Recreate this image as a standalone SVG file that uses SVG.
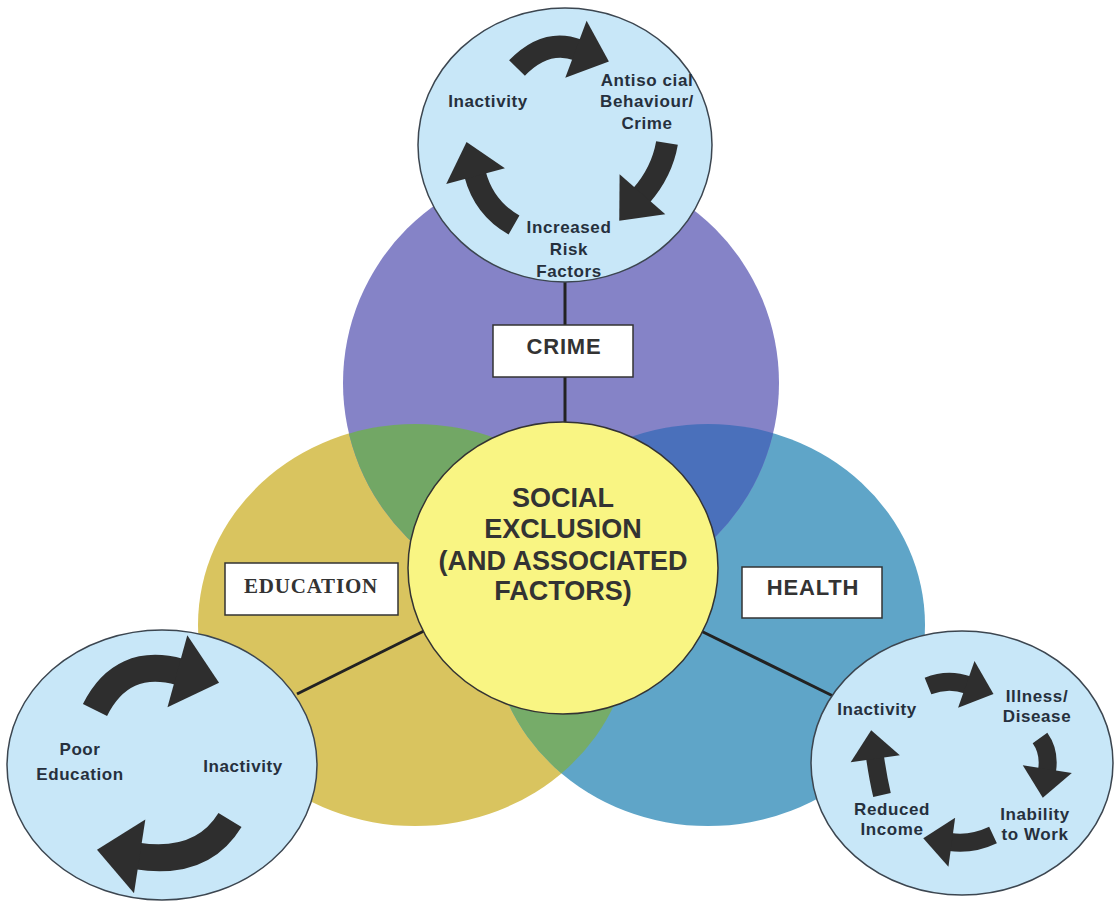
<svg xmlns="http://www.w3.org/2000/svg" width="1114" height="903" viewBox="0 0 1114 903">
<style>
.small{fill:#c8e7f8;stroke:#3c4650;stroke-width:1.5}
.lbl{fill:#ffffff;stroke:#333;stroke-width:1.5}
.ct{font-family:"Liberation Sans",Arial,sans-serif;font-weight:bold;font-size:27px;fill:#333;text-anchor:middle}
.bt{font-family:"Liberation Sans",Arial,sans-serif;font-weight:bold;font-size:22px;fill:#333;text-anchor:middle;letter-spacing:0.8px}
.st{font-family:"Liberation Sans",Arial,sans-serif;font-weight:bold;font-size:17px;fill:#26303d;text-anchor:middle;letter-spacing:0.6px}
.arr{fill:none;stroke:#2e2e2e;stroke-linecap:butt;marker-end:url(#head)}
.con{stroke:#222;stroke-width:3;fill:none}
</style>
<defs>
<marker id="head" markerUnits="strokeWidth" viewBox="-0.2 -1.5 2 3" markerWidth="2" markerHeight="3" refX="0" refY="0" orient="auto">
<path d="M-0.1,-1.38 L1.5,0 L-0.1,1.38 Z" fill="#2e2e2e"/>
</marker>
<clipPath id="cpPurple"><circle cx="561" cy="383" r="218"/></clipPath>
<clipPath id="cpTeal"><ellipse cx="708" cy="625" rx="217" ry="201"/></clipPath>
</defs>
<rect width="1114" height="903" fill="#ffffff"/>

<g id="education-circle"><ellipse cx="415" cy="625" rx="217" ry="201" fill="#d9c45f"/></g>
<g id="health-circle"><ellipse cx="708" cy="625" rx="217" ry="201" fill="#5fa5c8"/></g>
<g id="crime-circle"><circle cx="561" cy="383" r="218" fill="#8583c7"/></g>
<g id="overlaps">
<ellipse cx="415" cy="625" rx="217" ry="201" fill="#72a765" clip-path="url(#cpPurple)"/>
<ellipse cx="708" cy="625" rx="217" ry="201" fill="#4a70bb" clip-path="url(#cpPurple)"/>
<ellipse cx="415" cy="625" rx="217" ry="201" fill="#76ac69" clip-path="url(#cpTeal)"/>
</g>

<g id="connectors">
<line class="con" x1="565" y1="282" x2="565" y2="424"/>
<line class="con" x1="432" y1="627" x2="297" y2="694"/>
<line class="con" x1="699" y1="630" x2="833" y2="696"/>
</g>

<g id="center">
<ellipse cx="563" cy="568" rx="155" ry="146" fill="#f9f583" stroke="#333" stroke-width="1.5"/>
<text class="ct" x="563" y="507">SOCIAL</text>
<text class="ct" x="563" y="538">EXCLUSION</text>
<text class="ct" x="563" y="570">(AND ASSOCIATED</text>
<text class="ct" x="563" y="600">FACTORS)</text>
</g>

<g id="crime-cycle">
<ellipse class="small" cx="565" cy="145" rx="147" ry="137"/>
<path class="arr" stroke-width="22" d="M517 68 Q546 38 578 50"/>
<path class="arr" stroke-width="22" d="M667 143 Q662 172 641 196"/>
<path class="arr" stroke-width="22" d="M514 225 Q484 208 475 174"/>
<text class="st" x="488" y="107">Inactivity</text>
<text class="st" x="647" y="86">Antiso cial</text>
<text class="st" x="647" y="107">Behaviour/</text>
<text class="st" x="647" y="129">Crime</text>
<text class="st" x="569" y="233">Increased</text>
<text class="st" x="569" y="255">Risk</text>
<text class="st" x="569" y="277">Factors</text>
</g>

<g id="education-cycle">
<ellipse class="small" cx="162" cy="765" rx="155" ry="135"/>
<path class="arr" stroke-width="27" d="M95 710 Q122 656 180 672"/>
<path class="arr" stroke-width="27" d="M230 820 Q202 866 137 856"/>
<text class="st" x="80" y="755">Poor</text>
<text class="st" x="80" y="780">Education</text>
<text class="st" x="243" y="772">Inactivity</text>
</g>

<g id="health-cycle">
<ellipse class="small" cx="962" cy="763" rx="151" ry="132"/>
<path class="arr" stroke-width="18" d="M928 686 Q948 678 968 685"/>
<path class="arr" stroke-width="18" d="M1040 738 Q1050 752 1047 771"/>
<path class="arr" stroke-width="18" d="M993 835 Q972 845 950 842"/>
<path class="arr" stroke-width="18" d="M882 795 Q878 778 875 757"/>
<text class="st" x="877" y="715">Inactivity</text>
<text class="st" x="1037" y="702">Illness/</text>
<text class="st" x="1037" y="722">Disease</text>
<text class="st" x="892" y="815">Reduced</text>
<text class="st" x="892" y="835">Income</text>
<text class="st" x="1035" y="820">Inability</text>
<text class="st" x="1035" y="840">to Work</text>
</g>

<g id="crime-label">
<rect class="lbl" x="493" y="325" width="140" height="52"/>
<text class="bt" x="564" y="354">CRIME</text>
</g>
<g id="education-label">
<rect class="lbl" x="225" y="563" width="173" height="52"/>
<text x="311" y="593" font-family="'Liberation Serif','Times New Roman',serif" font-weight="bold" font-size="21" fill="#333" text-anchor="middle" letter-spacing="0.8">EDUCATION</text>
</g>
<g id="health-label">
<rect class="lbl" x="742" y="567" width="140" height="51"/>
<text class="bt" x="813" y="595">HEALTH</text>
</g>
</svg>
